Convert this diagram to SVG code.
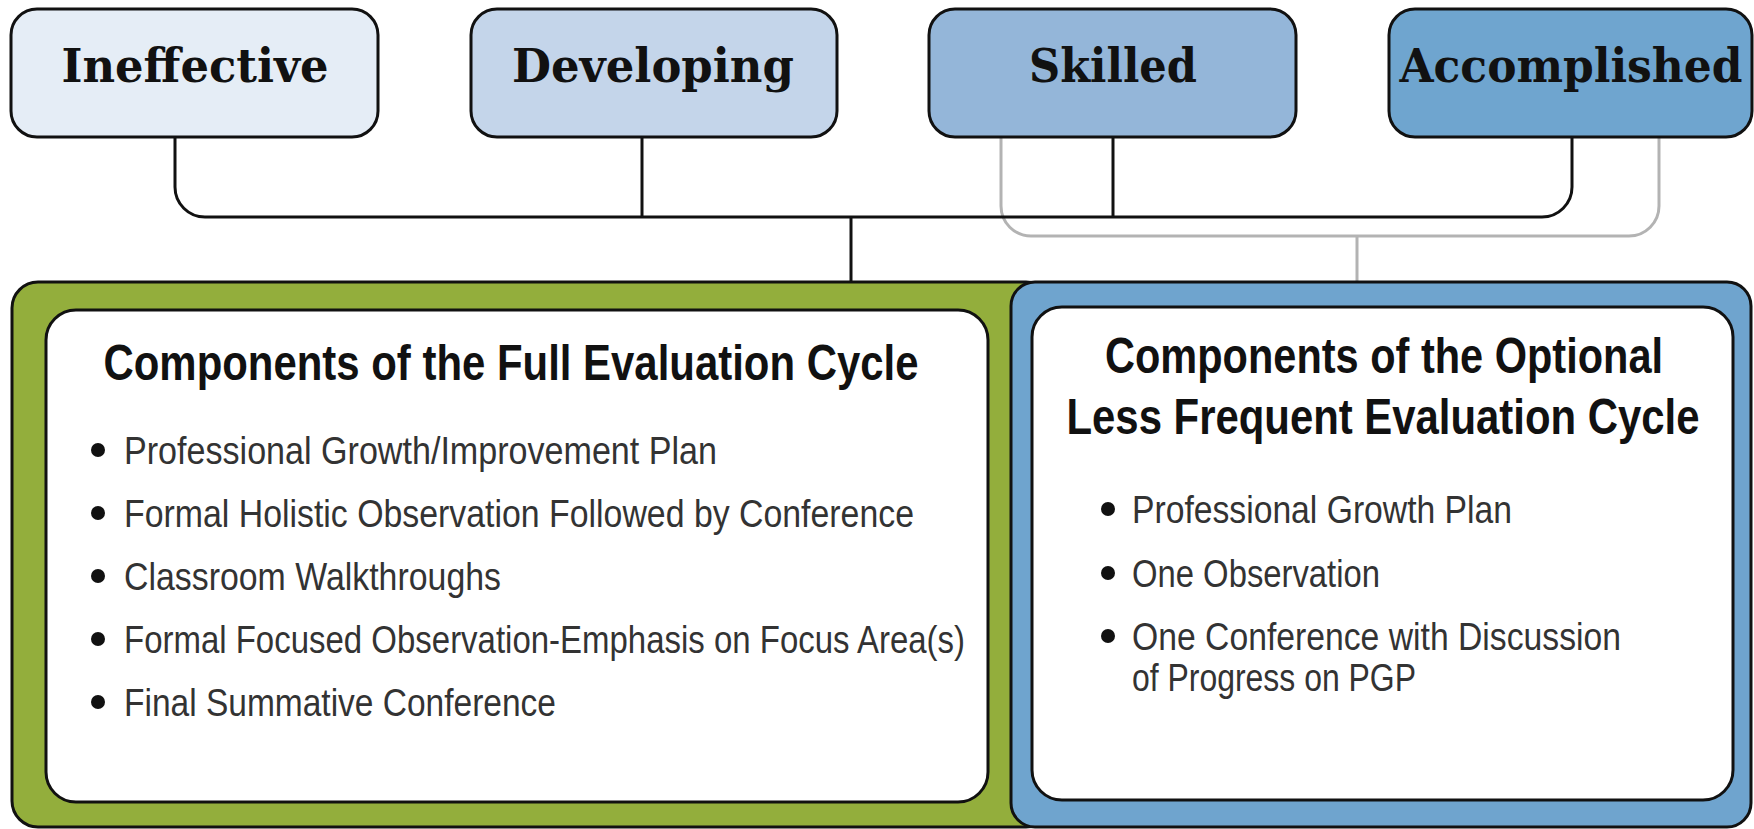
<svg xmlns="http://www.w3.org/2000/svg" width="1754" height="829" viewBox="0 0 1754 829">
<style>
.box{stroke:#111;stroke-width:3}
.lvl{font-family:"DejaVu Serif","Liberation Serif",serif;font-weight:bold;font-size:47px;fill:#111;text-anchor:middle}
.conn{fill:none;stroke:#111;stroke-width:3}
.gconn{fill:none;stroke:#b3b3b3;stroke-width:3}
.panel{stroke:#111;stroke-width:3}
.inner{fill:#fff;stroke:#111;stroke-width:3}
.ttl{font-family:"Liberation Sans Narrow","Liberation Sans",sans-serif;font-weight:bold;font-size:50px;fill:#111;text-anchor:middle}
.item{font-family:"Liberation Sans Narrow","Liberation Sans",sans-serif;font-size:38px;fill:#333}
.dot{fill:#111}
</style>
<rect width="1754" height="829" fill="#fff"/>
<g id="connectors">
<path class="gconn" d="M1001 137 V206 A30 30 0 0 0 1031 236 H1629 A30 30 0 0 0 1659 206 V137"/>
<path class="gconn" d="M1357 236 V283"/>
<path class="conn" d="M175 137 V187 A30 30 0 0 0 205 217 H1542 A30 30 0 0 0 1572 187 V137"/>
<path class="conn" d="M642 137 V217"/>
<path class="conn" d="M1113 137 V217"/>
<path class="conn" d="M851 217 V283"/>
</g>
<g id="ineffective">
<rect class="box" x="11" y="9" width="367" height="128" rx="26" fill="#e5edf6"/>
<text class="lvl" x="195" y="82" textLength="267" lengthAdjust="spacingAndGlyphs">Ineffective</text>
</g>
<g id="developing">
<rect class="box" x="471" y="9" width="366" height="128" rx="26" fill="#c4d5ea"/>
<text class="lvl" x="653" y="82" textLength="282" lengthAdjust="spacingAndGlyphs">Developing</text>
</g>
<g id="skilled">
<rect class="box" x="929" y="9" width="367" height="128" rx="26" fill="#94b6d9"/>
<text class="lvl" x="1113" y="82" textLength="168" lengthAdjust="spacingAndGlyphs">Skilled</text>
</g>
<g id="accomplished">
<rect class="box" x="1389" y="9" width="363" height="128" rx="26" fill="#6fa5cf"/>
<text class="lvl" x="1571" y="82" textLength="343" lengthAdjust="spacingAndGlyphs">Accomplished</text>
</g>
<g id="full-cycle">
<rect class="panel" x="12" y="282" width="1040" height="545" rx="26" fill="#93ae3c"/>
</g>
<g id="optional-cycle">
<rect class="panel" x="1011" y="282" width="740" height="545" rx="24" fill="#6fa4ce"/>
<rect class="inner" x="1032" y="307" width="701" height="493" rx="30"/>
<text class="ttl" x="1384" y="373" textLength="558" lengthAdjust="spacingAndGlyphs">Components of the Optional</text>
<text class="ttl" x="1383" y="434" textLength="633" lengthAdjust="spacingAndGlyphs">Less Frequent Evaluation Cycle</text>
<circle class="dot" cx="1108" cy="509" r="7"/>
<text class="item" x="1132" y="523" textLength="380" lengthAdjust="spacingAndGlyphs">Professional Growth Plan</text>
<circle class="dot" cx="1108" cy="573" r="7"/>
<text class="item" x="1132" y="587" textLength="248" lengthAdjust="spacingAndGlyphs">One Observation</text>
<circle class="dot" cx="1108" cy="636" r="7"/>
<text class="item" x="1132" y="650" textLength="489" lengthAdjust="spacingAndGlyphs">One Conference with Discussion</text>
<text class="item" x="1132" y="691" textLength="284" lengthAdjust="spacingAndGlyphs">of Progress on PGP</text>
</g>
<g id="full-cycle-content">
<rect class="inner" x="46" y="310" width="942" height="492" rx="30"/>
<text class="ttl" x="511" y="380" textLength="815" lengthAdjust="spacingAndGlyphs">Components of the Full Evaluation Cycle</text>
<circle class="dot" cx="98" cy="450" r="7"/>
<text class="item" x="124" y="464" textLength="593" lengthAdjust="spacingAndGlyphs">Professional Growth/Improvement Plan</text>
<circle class="dot" cx="98" cy="513" r="7"/>
<text class="item" x="124" y="527" textLength="790" lengthAdjust="spacingAndGlyphs">Formal Holistic Observation Followed by Conference</text>
<circle class="dot" cx="98" cy="576" r="7"/>
<text class="item" x="124" y="590" textLength="377" lengthAdjust="spacingAndGlyphs">Classroom Walkthroughs</text>
<circle class="dot" cx="98" cy="639" r="7"/>
<text class="item" x="124" y="653" textLength="841" lengthAdjust="spacingAndGlyphs">Formal Focused Observation-Emphasis on Focus Area(s)</text>
<circle class="dot" cx="98" cy="702" r="7"/>
<text class="item" x="124" y="716" textLength="432" lengthAdjust="spacingAndGlyphs">Final Summative Conference</text>
</g>
</svg>
